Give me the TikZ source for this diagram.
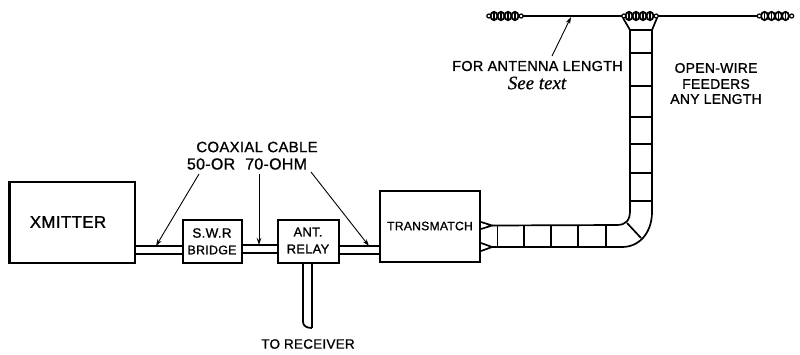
\documentclass[tikz,border=0pt]{standalone}
\usepackage{fontspec}
\setmainfont{Liberation Sans}[FakeBold=1,LetterSpace=2]
\newfontfamily\scriptfnt{Liberation Serif}[FakeBold=0.6]
\usetikzlibrary{arrows.meta,calc}
\newcommand{\fs}[1]{\fontsize{#1}{#1}\selectfont}
\tikzset{
  x=1bp,y=-1bp,
  blk/.style={draw=black,line width=2.2bp,inner sep=0pt,minimum width=#1},
  lbl/.style={inner sep=0pt,align=center,text=black},
  wire/.style={draw=black,line width=1.7bp},
  thick wire/.style={draw=black,line width=2.2bp},
  pointer/.style={draw=black,line width=0.9bp,-{Stealth[length=7bp,width=4.5bp]}},
  ins/.style={inner sep=0pt,minimum height=10bp,minimum width=35bp},
  bead/.style={draw=black,line width=1.8bp,fill=white}
}
\newcommand{\chain}[1]{%
  \foreach \dx in {-11,-4,3,10}{\draw[bead] ($(#1.center)+(\dx,0)$) ellipse (3.4 and 4.2);}
  \foreach \dx in {-11,-4,3,10}{\draw[black,line width=1.2bp] ($(#1.center)+(\dx,-3)$) -- ++(0,6);}
  \draw[bead,line width=1.2bp] ($(#1.east)+(-1.5,0)$) circle (2);
  \draw[bead,line width=1.2bp] ($(#1.west)+(1.5,0)$) circle (2);
}
\begin{document}
\begin{tikzpicture}
\useasboundingbox (0,0) rectangle (800,354);
% boxes
\node[blk=125.5bp,minimum height=81bp] (xm) at (72.2,222.5) {};
\node[blk=59bp,minimum height=43bp] (swr) at (212.5,241.5) {};
\node[blk=61bp,minimum height=43bp] (rel) at (308.5,241.5) {};
\node[blk=100bp,minimum height=71bp] (tm) at (430,226.5) {};
% box labels
\node[lbl,font=\fs{17}] at (68,222) {XMITTER};
\node[lbl,font=\fs{13.5}] (swrl) at (212,233) {S.W.R};
\node[lbl,font=\fs{12.5}] at (212,250) {BRIDGE};
\node[lbl,font=\fs{13}] at (308,232) {ANT.};
\node[lbl,font=\fs{13}] at (308,249) {RELAY};
\node[lbl,font=\fs{12.2}] at (430,226) {TRANSMATCH};
% coax
\draw[wire] (xm.east |- 0,246) -- (swr.west |- 0,246);
\draw[wire] (xm.east |- 0,254) -- (swr.west |- 0,254);
\draw[wire] (swr.east |- 0,245) -- (rel.west |- 0,245);
\draw[wire] (swr.east |- 0,253) -- (rel.west |- 0,253);
\draw[wire] (rel.east |- 0,246) -- (tm.west |- 0,246);
\draw[wire] (rel.east |- 0,254) -- (tm.west |- 0,254);
% receiver lead
\coordinate (rxa) at (303,322);
\coordinate (rxb) at (312,328);
\draw[wire] (rel.south -| 303,0) -- (rxa) .. controls (303,326) and (307,328) .. (rxb);
\draw[wire] (rel.south -| 312,0) -- (rxb);
% transmatch terminals
\draw[wire,fill=white] (tm.east |- 0,222) -- (492,225.5) -- (tm.east |- 0,229);
\draw[wire,fill=white] (tm.east |- 0,243) -- (492,247) -- (tm.east |- 0,251);
% insulators
\node[ins] (il) at (505,16) {};
\node[ins] (ic) at (640,16) {};
\node[ins] (ir) at (775.5,16) {};
\chain{il}\chain{ic}\chain{ir}
% antenna
\draw[thick wire] (il.east) -- (ic.west);
\draw[wire] (ic.east) -- (ir.west);
% feeder
\coordinate (fa) at (630,30);
\coordinate (fb) at (652,30);
\draw[wire] (492,225.5) -- (617,225) .. controls (626,225) and (630,220) .. (630,211) -- (fa);
\draw[wire] (492,247) -- (622,247) .. controls (640,247) and (652,232) .. (652,212) -- (fb);
\draw[wire] (fa) -- (623,18);
\draw[wire] (fb) -- (657,18);
\foreach \rx in {497.5,524,551,578,606}{\draw[wire] (\rx,225.5) -- (\rx,247);}
\draw[wire] (627,223) -- (641,238);
\foreach \ry in {30,53,86,117,144,173,201}{\draw[wire] (630,\ry) -- (652,\ry);}
% labels
\node[lbl,font=\fs{15}] (coax) at (257,147) {COAXIAL CABLE};
\node[lbl,font=\fs{16}] (ohm) at (247,164) {50-OR\hspace{10bp}70-OHM};
\node[lbl,font=\fs{14.5}] (len) at (537.5,66) {FOR ANTENNA LENGTH};
\node[lbl,font=\fs{19}\scriptfnt\itshape] (see) at (537,83) {See text};
\node[lbl,font=\fs{14}] at (716,68) {OPEN-WIRE};
\node[lbl,font=\fs{14}] at (716,84) {FEEDERS};
\node[lbl,font=\fs{14}] at (716,99) {ANY LENGTH};
\node[lbl,font=\fs{13.5}] (rx) at (308,344) {TO RECEIVER};
% pointers
\coordinate (pa) at (199,174); \coordinate (pat) at (156,246);
\coordinate (pb) at (259,174); \coordinate (pbt) at (259,245);
\coordinate (pc) at (311,172); \coordinate (pct) at (369,246);
\coordinate (pd) at (552,56);  \coordinate (pdt) at (571,17);
\draw[pointer] (pa) -- (pat);
\draw[pointer] (pb) -- (pbt);
\draw[pointer] (pc) -- (pct);
\draw[pointer] (pd) -- (pdt);
\end{tikzpicture}
\end{document}
